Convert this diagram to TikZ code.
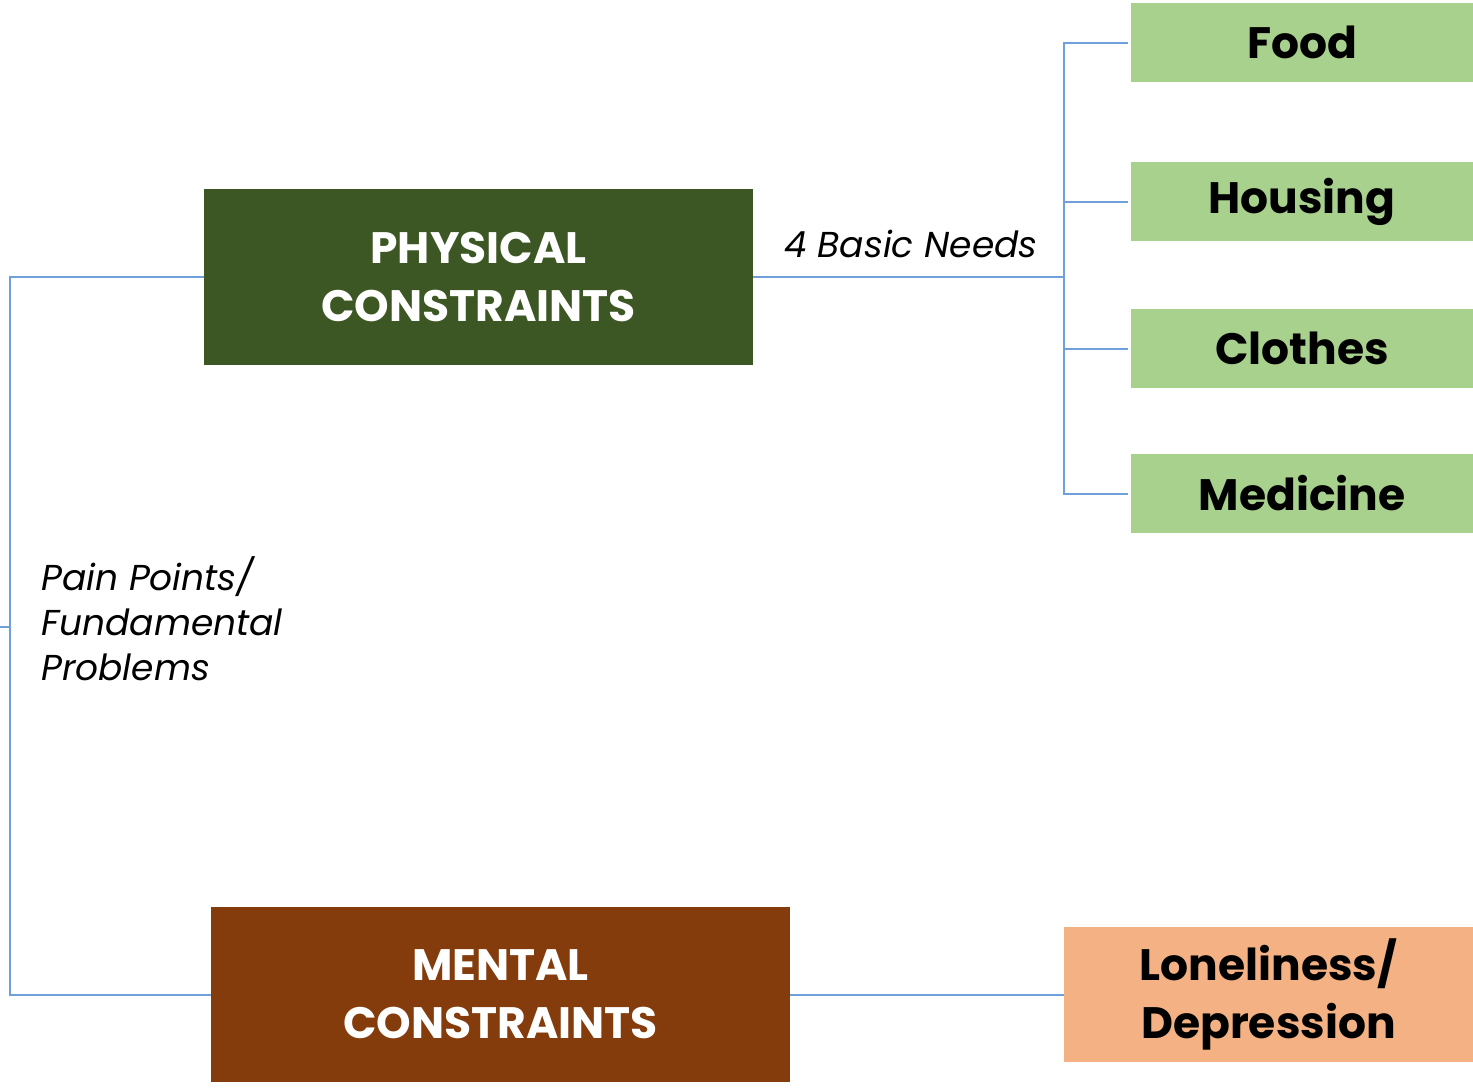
\documentclass[tikz,border=0pt]{standalone}
\usepackage{fontspec}
\setmainfont{Poppins}
\usepackage{tikz}
\usepackage{xcolor}
\usetikzlibrary{arrows,backgrounds,shapes}
\definecolor{physgreen}{RGB}{60,87,36}
\definecolor{needgreen}{RGB}{169,209,142}
\definecolor{mentbrown}{RGB}{132,60,12}
\definecolor{lonepeach}{RGB}{244,177,131}
\definecolor{linkblue}{RGB}{112,160,218}
\tikzstyle{bigbox}	=[rectangle,text=white,font=\fontsize{44}{58}\selectfont\bfseries,align=center,inner sep=0pt]
\tikzstyle{needbox}	=[rectangle,fill=needgreen,minimum width=342pt,minimum height=79pt,inner sep=0pt,font=\fontsize{44}{58}\selectfont\bfseries]
\tikzstyle{lonebox}	=[rectangle,fill=lonepeach,minimum width=409pt,minimum height=135pt,inner sep=0pt,align=center,font=\fontsize{44}{58}\selectfont\bfseries]
\tikzstyle{lbl}		=[inner sep=0pt,font=\fontsize{36}{45}\selectfont\itshape]
\tikzstyle{edgeln} 	= [draw,line width=2pt,linkblue]

\begin{document}
\begin{tikzpicture}[x=1pt,y=-1pt]
		\useasboundingbox (0,0) rectangle (1473,1088);
		
		%%%%% Constraints
		\node[bigbox,fill=physgreen,minimum width=549pt,minimum height=176pt] (phys) at (478.5,277) {PHYSICAL\\CONSTRAINTS};
		\node[bigbox,fill=mentbrown,minimum width=579pt,minimum height=175pt] (ment) at (500.5,994.5) {MENTAL\\CONSTRAINTS};
		
		%%%%% Basic needs
		\foreach \pos/\name/\txt in {{(1302,42.5)/food/Food}, {(1302,201.5)/hous/Housing}, {(1302,348.5)/clot/Clothes}, {(1302,493.5)/medi/Medicine}}
		\node[needbox] (\name) at \pos {\txt};
		
		\node[lonebox] (lone) at (1268.5,994.5) {Loneliness/\\Depression};
		
		%%%% labels
		\node[lbl] (needs) at (911,244) {4 Basic Needs};
		\node[lbl,anchor=west,align=left] (pain) at (41,619) {Pain Points/\\Fundamental\\Problems};
		
		\coordinate (root) at (10,627);
		\coordinate (stub) at (0,627);
		\coordinate (jn) at (1064,277);
		
		%%% Tree
		\path[edgeln] (phys.west) -| (root) |- (ment.west);
		\path[edgeln] (stub) -- (root);
		\path[edgeln] (phys.east) -- (jn);
		\foreach \dest in {food,hous,clot,medi}	\path[edgeln,shorten >=3pt] (jn) |- (\dest.west) ;
		\path[edgeln] (ment.east) -- (lone.west);
\end{tikzpicture}
\end{document}
